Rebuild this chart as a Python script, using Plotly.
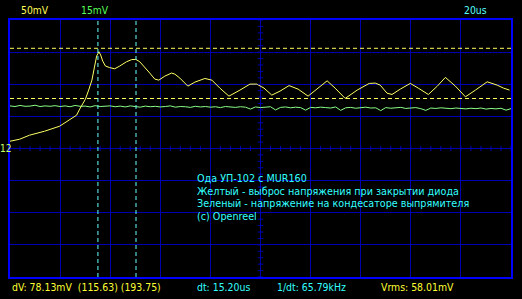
import plotly.graph_objects as go

# ---- data ----
# Channel 1 (yellow), time in microseconds, voltage in mV (50 mV/div)
ch1_t = [0, 3.8, 7.8, 13.8, 19.8, 23.8, 26.6, 27.8, 30.1, 31.4, 32.7, 33.8, 34.6, 35.5, 36.2, 37.0,
         38.1, 39.8, 41.8, 43.8, 46.5, 48.6, 50.2, 51.8, 53.8, 55.8, 57.8, 59.4, 61.8, 64.5, 65.8,
         67.8, 71.0, 73.8, 77.8, 80.6, 83.8, 87.4, 91.8, 95.8, 98.5, 101.4, 104.5, 107.8, 111.4,
         115.0, 119.0, 123.0, 126.6, 129.8, 133.8, 138.6, 143.4, 145.8, 147.8, 150.5, 152.5, 155.8,
         159.8, 163.0, 167.0, 170.6, 173.8, 177.8, 181.8, 185.8, 190.5, 194.5, 197.0, 199.4]
ch1_mv = [49.1, 52.2, 58.5, 64.7, 72.5, 83.4, 89.7, 99.0, 114.6, 128.7, 144.2, 166.1, 181.7, 188.4,
          183.2, 173.9, 166.1, 163.7, 161.9, 166.1, 172.8, 176.2, 176.5, 172.8, 164.5, 155.2, 145.8,
          144.2, 150.4, 155.2, 153.6, 147.4, 134.9, 141.1, 146.8, 144.2, 131.7, 119.3, 128.7, 138.0,
          138.0, 131.8, 120.9, 127.1, 135.7, 130.2, 119.3, 131.7, 143.1, 131.7, 115.7, 128.7, 139.1,
          139.6, 136.4, 123.9, 121.9, 130.2, 139.1, 131.7, 121.9, 134.9, 148.5, 134.9, 118.2, 128.7,
          141.6, 136.4, 131.8, 128.7]

# Channel 2 (green), 15 mV/div, sampled every 2 us
ch2_t = [i * 2 for i in range(101)]
ch2_mv = [19.9, 19.6, 20.1, 19.7, 19.8, 20.2, 19.6, 19.9, 19.7, 20.0,
          19.6, 19.9, 19.5, 20.1, 19.7, 19.8, 19.4, 20.0, 19.6, 19.7,
          19.9, 19.5, 19.8, 19.4, 19.9, 19.6, 19.3, 19.8, 19.5, 19.7,
          19.4, 19.6, 19.9, 19.3, 19.6, 19.5, 19.2, 19.7, 19.4, 19.6,
          19.3, 19.5, 19.1, 19.6, 19.4, 19.2, 19.5, 19.3, 18.4, 19.4,
          19.1, 19.3, 19.5, 18.0, 19.2, 19.4, 19.0, 19.3, 19.1, 17.9,
          19.2, 19.0, 19.3, 19.1, 18.9, 19.4, 17.8, 19.0, 19.2, 18.8,
          19.1, 19.3, 18.9, 19.0, 17.7, 19.1, 18.8, 19.0, 19.2, 18.7,
          18.9, 19.1, 18.6, 17.8, 18.9, 18.7, 19.0, 18.8, 18.6, 18.9,
          18.7, 18.5, 18.8, 18.6, 18.9, 18.4, 18.7, 18.5, 18.8, 17.9, 18.6]

ch1_scale = 50.0    # mV/div
ch2_scale = 15.0    # mV/div
ch1_offset = 37.8   # mV at screen centre for ch1
time_div = 20.0     # us/div
n_xdiv, n_ydiv = 10, 8

v_cursors = [115.63, 193.75]   # mV (ch1)
t_cursors = [35.1, 50.3]       # us

top_labels = [("50mV", "#ffff55", 20), ("15mV", "#55ff55", 80), ("20us", "#55ffff", 463)]
bottom_labels = [("dV: 78.13mV  (115.63) (193.75)", "#ffff33", 11),
                 ("dt: 15.20us", "#33ffff", 196),
                 ("1/dt: 65.79kHz", "#33ffff", 276),
                 ("Vrms: 58.01mV", "#ffff33", 380)]
note_lines = ["Ода УП-102 с MUR160",
              "Желтый - выброс напряжения при закрытии диода",
              "Зеленый - напряжение на кондесаторе выпрямителя",
              "(c) Openreel"]

# ---- figure ----
W, H = 522, 299
ml, mr, mt, mb = 10, 11, 20, 22
pw, ph = W - ml - mr, H - mt - mb

ylo = ch1_offset - ch1_scale * n_ydiv / 2
yhi = ch1_offset + ch1_scale * n_ydiv / 2
ch2_plot = [ch1_offset + v / ch2_scale * ch1_scale for v in ch2_mv]

font_fam = "Liberation Sans Narrow, DejaVu Sans Condensed, Arial Narrow, sans-serif"

fig = go.Figure()
fig.add_trace(go.Scatter(x=ch2_t, y=ch2_plot, mode="lines",
                         line=dict(color="#88ff88", width=1), hoverinfo="skip"))
fig.add_trace(go.Scatter(x=ch1_t, y=ch1_mv, mode="lines",
                         line=dict(color="#ffff66", width=1), hoverinfo="skip"))

shapes = []
grid_col = "#0000b0"
# centre lines ticks
xc = time_div * n_xdiv / 2
for i in range(n_xdiv * 5 + 1):
    t = i * time_div / 5
    shapes.append(dict(type="line", xref="x", yref="y", x0=t, x1=t,
                       y0=ch1_offset - 4, y1=ch1_offset + 4,
                       line=dict(color=grid_col, width=1)))
for i in range(n_ydiv * 5 + 1):
    v = ylo + i * ch1_scale / 5
    shapes.append(dict(type="line", xref="x", yref="y", x0=xc - 1.1, x1=xc + 1.1,
                       y0=v, y1=v, line=dict(color=grid_col, width=1)))
# cursors
for v in v_cursors:
    shapes.append(dict(type="line", xref="x", yref="y", x0=0, x1=time_div * n_xdiv,
                       y0=v, y1=v, line=dict(color="#ffff55", width=1, dash="4px,3px")))
for t in t_cursors:
    shapes.append(dict(type="line", xref="x", yref="y", x0=t, x1=t, y0=ylo, y1=yhi,
                       line=dict(color="#66ffff", width=1, dash="4px,3px")))

annotations = []
def px_ann(text, color, x, y, size=12, height=None):
    a = dict(text=text, xref="paper", yref="paper",
             x=(x - ml) / pw, y=(H - mb - y) / ph,
             xanchor="left", yanchor="middle", showarrow=False, borderpad=0,
             font=dict(family=font_fam, size=size, color=color))
    if height:
        a["height"] = height
    annotations.append(a)

for txt, col, x in top_labels:
    px_ann(txt, col, x, 10, size=10.3)
for txt, col, x in bottom_labels:
    px_ann(txt, col, x, 287, size=10.4)
for k, txt in enumerate(note_lines):
    px_ann(txt, "#33ffff", 196, 178 + k * 12.7, size=10.7, height=12)
px_ann("12", "#ccff66", -1, 148, size=10)

fig.update_layout(
    width=W, height=H, margin=dict(l=ml, r=mr, t=mt, b=mb),
    paper_bgcolor="black", plot_bgcolor="black", showlegend=False,
    shapes=shapes, annotations=annotations,
    xaxis=dict(range=[0, time_div * n_xdiv], dtick=time_div, tick0=0,
               showgrid=True, gridcolor=grid_col, gridwidth=1, zeroline=False,
               showticklabels=False, ticks="", showline=True, linecolor="#0000ff",
               linewidth=2, mirror=True, fixedrange=True),
    yaxis=dict(range=[ylo, yhi], dtick=ch1_scale, tick0=ch1_offset,
               showgrid=True, gridcolor=grid_col, gridwidth=1, zeroline=False,
               showticklabels=False, ticks="", showline=True, linecolor="#0000ff",
               linewidth=2, mirror=True, fixedrange=True),
)

fig.write_html("out.html", config={"displayModeBar": False})
